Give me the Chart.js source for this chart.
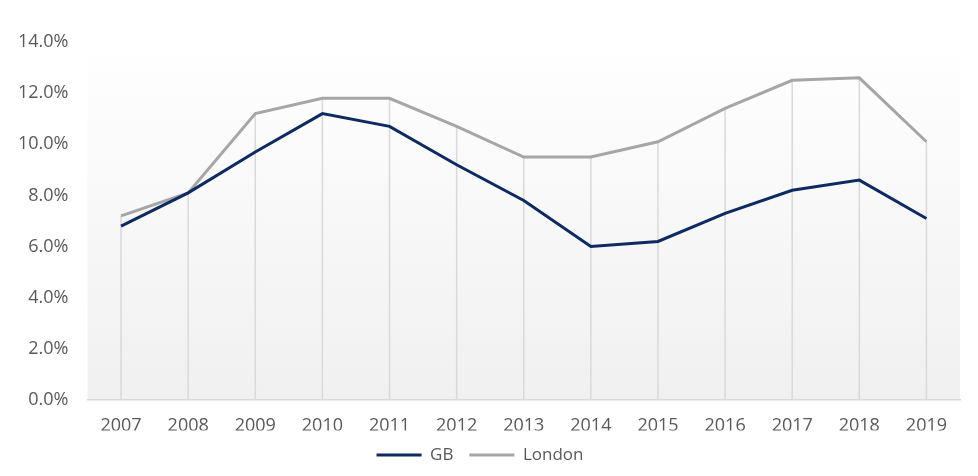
<!DOCTYPE html>
<html>
<head>
<meta charset="utf-8">
<script src="https://cdn.jsdelivr.net/npm/chart.js@4"></script>
<style>
  html, body { margin: 0; padding: 0; background: #fff; }
  #wrap { width: 978px; height: 476px; }
</style>
</head>
<body>
<div id="wrap"><canvas id="myChart"></canvas></div>
<script>
const years = ["2007", "2008", "2009", "2010", "2011", "2012", "2013", "2014", "2015", "2016", "2017", "2018", "2019"];
const gbValues = [6.8, 8.1, 9.7, 11.2, 10.7, 9.2, 7.8, 6.0, 6.2, 7.3, 8.2, 8.6, 7.1];
const londonValues = [7.2, 8.1, 11.2, 11.8, 11.8, 10.7, 9.5, 9.5, 10.1, 11.4, 12.5, 12.6, 10.1];
const yTicks = [0, 2, 4, 6, 8, 10, 12, 14];

const ctx = document.getElementById("myChart");

// gradient behind the plot area
const plotBackground = {
  id: "plotBackground",
  beforeDraw(chart) {
    const { ctx, chartArea: a } = chart;
    const g = ctx.createLinearGradient(0, a.top, 0, a.bottom);
    g.addColorStop(0, "#ffffff");
    g.addColorStop(1, "#f0f0f0");
    ctx.save();
    ctx.fillStyle = g;
    ctx.fillRect(a.left, a.top, a.right - a.left, a.bottom - a.top);
    ctx.restore();
  }
};

// drop lines from the highest point down to the axis
const dropLines = {
  id: "dropLines",
  beforeDatasetsDraw(chart) {
    const { ctx, chartArea: a, scales } = chart;
    ctx.save();
    ctx.strokeStyle = "#d9d9d9";
    ctx.lineWidth = 1.5;
    years.forEach((y, i) => {
      const x = scales.x.getPixelForValue(i);
      const top = scales.y.getPixelForValue(Math.max(gbValues[i], londonValues[i]));
      ctx.beginPath();
      ctx.moveTo(x, top);
      ctx.lineTo(x, a.bottom);
      ctx.stroke();
    });
    ctx.restore();
  }
};

const tickFont = { family: "'Open Sans', 'Liberation Sans', sans-serif", size: 18 };

const chart = new Chart(ctx, {
  type: "line",
  data: {
    labels: years,
    datasets: [
      {
        label: "GB",
        data: gbValues,
        borderColor: "#0e2a63",
        backgroundColor: "#0e2a63",
        borderWidth: 3,
        pointRadius: 0,
        pointStyle: "line",
        tension: 0
      },
      {
        label: "London",
        data: londonValues,
        borderColor: "#a6a6a6",
        backgroundColor: "#a6a6a6",
        borderWidth: 3,
        pointRadius: 0,
        pointStyle: "line",
        tension: 0
      }
    ]
  },
  options: {
    responsive: true,
    maintainAspectRatio: false,
    animation: false,
    layout: { padding: { top: 42, right: 18, left: 0, bottom: 2.5 } },
    plugins: {
      tooltip: { enabled: false },
      legend: {
        position: "bottom",
        labels: {
          usePointStyle: true,
          pointStyleWidth: 45,
          boxHeight: 15,
          padding: 16,
          color: "#595959",
          font: { family: tickFont.family, size: 17 }
        }
      }
    },
    scales: {
      x: {
        offset: true,
        afterFit(scale) { scale.height = 30.5; },
        grid: { display: false, drawTicks: false },
        border: { display: true, color: "#d9d9d9", width: 1.5 },
        ticks: { color: "#595959", font: tickFont, padding: 15, maxRotation: 0 }
      },
      y: {
        min: 0,
        max: 14,
        afterBuildTicks(scale) {
          scale.ticks = yTicks.map(v => ({ value: v }));
        },
        afterFit(scale) { scale.width = 87.5; },
        grid: { display: false, drawTicks: false },
        border: { display: false },
        ticks: {
          color: "#595959",
          font: tickFont,
          padding: 19,
          callback: v => v.toFixed(1) + "%"
        }
      }
    }
  },
  plugins: [plotBackground, dropLines]
});
</script>
</body>
</html>
